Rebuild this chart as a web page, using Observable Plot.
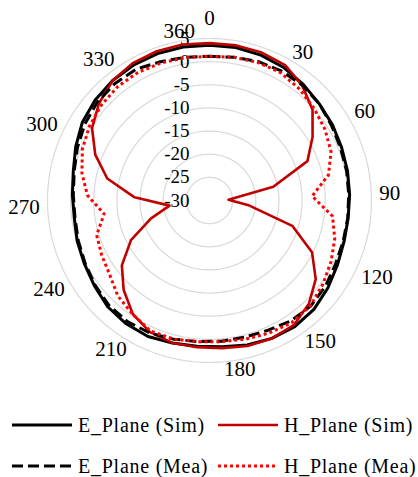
<!DOCTYPE html>
<html><head><meta charset="utf-8">
<script src="https://cdn.jsdelivr.net/npm/d3@7"></script>
<script src="https://cdn.jsdelivr.net/npm/@observablehq/plot@0.6"></script>
<style>
body{margin:0;background:#fff;font-family:"Liberation Serif","Times New Roman","DejaVu Serif",serif;color:#000;}
#chart{width:418px;height:400px;}
#legend{position:relative;width:418px;height:77px;overflow:hidden;}
.item{position:absolute;display:flex;align-items:center;height:20px;line-height:20px;font-size:20px;letter-spacing:0.75px;white-space:nowrap;}
.item svg{margin-right:6px;flex:none;}
</style></head><body>
<div id="chart"></div>
<div id="legend"></div>
<script>
// Category axis (degrees) as in the source sheet: 0..360 every 10
const angles = [0,10,20,30,40,50,60,70,80,90,100,110,120,130,140,150,160,170,180,190,200,210,220,230,240,250,260,270,280,290,300,310,320,330,340,350,360];
const tickLabels = [0,30,60,90,120,150,180,210,240,270,300,330,360];
const valueTicks = [-30,-25,-20,-15,-10,-5,0,5];
const seriesNames = ["E_Plane (Sim)","H_Plane (Sim)","E_Plane (Mea)","H_Plane (Mea)"];

// dB values per category
const eSim = [3.55,3.55,3.3,2.9,2.25,1.6,1.2,0.75,0.5,0.3,0.2,0.4,0.95,1.8,2.6,2.9,2.7,2.25,1.7,1.6,1.8,2.25,2.15,1.8,0.95,0.3,-0.1,-0.55,-0.35,0.1,1.15,2.25,2.9,3.3,3.55,3.65,3.65];
const hSim = [4.0,4.0,3.9,3.5,1.9,-0.35,-3.85,-7.2,-15.9,-25.9,-21.3,-11.3,-5.2,-1.45,1.0,2.5,2.7,2.5,2.0,1.8,1.8,1.2,-0.4,-3.2,-6.45,-11.0,-16.8,-21.3,-13.8,-7.4,-3.4,-0.2,1.8,3.3,4.0,4.2,4.2];
const eMea = [1.15,1.4,1.8,2.0,2.0,1.6,0.95,0.5,0.3,0.1,0.1,0.2,0.5,1.15,1.6,1.4,0.75,0.5,0.5,0.6,0.95,1.4,1.6,1.4,0.75,0.1,-0.35,-0.7,-0.55,-0.1,0.75,1.6,2.25,2.5,2.5,1.8,1.4];
const hMea = [1.15,1.4,1.6,1.6,0.95,0.1,-0.7,-1.7,-3.7,-7.8,-3.2,-1.7,-0.6,0.45,1.5,1.8,1.4,0.95,0.6,0.6,0.95,0.95,-0.35,-1.4,-3.15,-3.9,-4.5,-7.05,-3.6,-1.8,-0.4,0.5,1.15,1.6,1.7,1.5,1.3];

const styles = [
  {stroke:"#000000", strokeWidth:3, dash:null},
  {stroke:"#c00000", strokeWidth:2.6, dash:null},
  {stroke:"#000000", strokeWidth:3, dash:"11,5"},
  {stroke:"#ff0000", strokeWidth:3, dash:"3,3"}
];
const seriesValues = [eSim, hSim, eMea, hMea];

const rMin = -30, rMax = 5;
const k = 0.1;                       // arc degrees per dB
const N = angles.length;             // category slots around the circle
const step = 360 / N;
const lat = v => 90 - (v - rMin) * k;
const lonAt = a => 180 - a;          // display angle (clockwise from top) -> longitude
const catAngle = i => i * step;

function seriesRows(vals, name) {
  const rows = vals.map((v, i) => ({name, lon: lonAt(catAngle(i)), lat: lat(v)}));
  rows.push({...rows[0]}); // radar chart closes the loop
  return rows;
}

const labelRows = tickLabels.map(t => {
  const i = angles.indexOf(t);
  const a = catAngle(i);
  const side = a === 0 ? "middle" : (a < 180 ? "start" : "end");
  const shown = side === "end" ? a + step / 2 : a;
  return {t, side, lon: lonAt(shown), lat: lat(rMax + 1.7)};
});

const lineMarks = seriesNames.map((name, s) => Plot.line(seriesRows(seriesValues[s], name), {
  x: "lon", y: "lat", stroke: styles[s].stroke, strokeWidth: styles[s].strokeWidth,
  strokeDasharray: styles[s].dash || undefined, strokeLinejoin: "round", strokeLinecap: "butt"
}));

const font = "'Liberation Serif','Times New Roman','DejaVu Serif',serif";
const chart = Plot.plot({
  width: 418, height: 400, margin: 0,
  style: {fontFamily: font, background: "#fff", color: "#000"},
  projection: {
    type: "azimuthal-equidistant",
    rotate: [0, -90],
    domain: d3.geoCircle().center([0, 90]).radius((rMax - rMin) * 200 / 162 * k)()
  },
  marks: [
    Plot.geo(valueTicks.filter(v => v > rMin), {
      geometry: v => d3.geoCircle().center([0, 90]).radius((v - rMin) * k).precision(1)(),
      stroke: "#d9d9d9", strokeWidth: 1.2, fill: "none"
    }),
    Plot.text(valueTicks, {x: 180, y: v => lat(v), text: d => String(d), textAnchor: "end", dx: -20, fontSize: 19, fontFamily: font, fill: "#000"}),
    Plot.text(labelRows.filter(d => d.side === "middle"), {x: "lon", y: "lat", text: d => String(d.t), textAnchor: "middle", dy: -12, fontSize: 21, fontFamily: font, fill: "#000"}),
    Plot.text(labelRows.filter(d => d.side === "start"), {x: "lon", y: "lat", text: d => String(d.t), textAnchor: "start", fontSize: 21, fontFamily: font, fill: "#000"}),
    Plot.text(labelRows.filter(d => d.side === "end"), {x: "lon", y: "lat", text: d => String(d.t), textAnchor: "end", fontSize: 21, fontFamily: font, fill: "#000"}),
    ...lineMarks
  ]
});
document.getElementById("chart").appendChild(chart);

// Legend
const legend = document.getElementById("legend");
const pos = [[12, 15], [218, 15], [12, 56], [218, 56]];
seriesNames.forEach((name, s) => {
  const div = document.createElement("div");
  div.className = "item";
  div.style.left = pos[s][0] + "px";
  div.style.top = pos[s][1] + "px";
  const st = styles[s];
  div.innerHTML = `<svg width="60" height="10"><line x1="0" x2="60" y1="5" y2="5" stroke="${st.stroke}" stroke-width="${st.strokeWidth}" ${st.dash ? `stroke-dasharray="${st.dash}"` : ""}/></svg><span>${name}</span>`;
  legend.appendChild(div);
});
</script>
</body></html>
